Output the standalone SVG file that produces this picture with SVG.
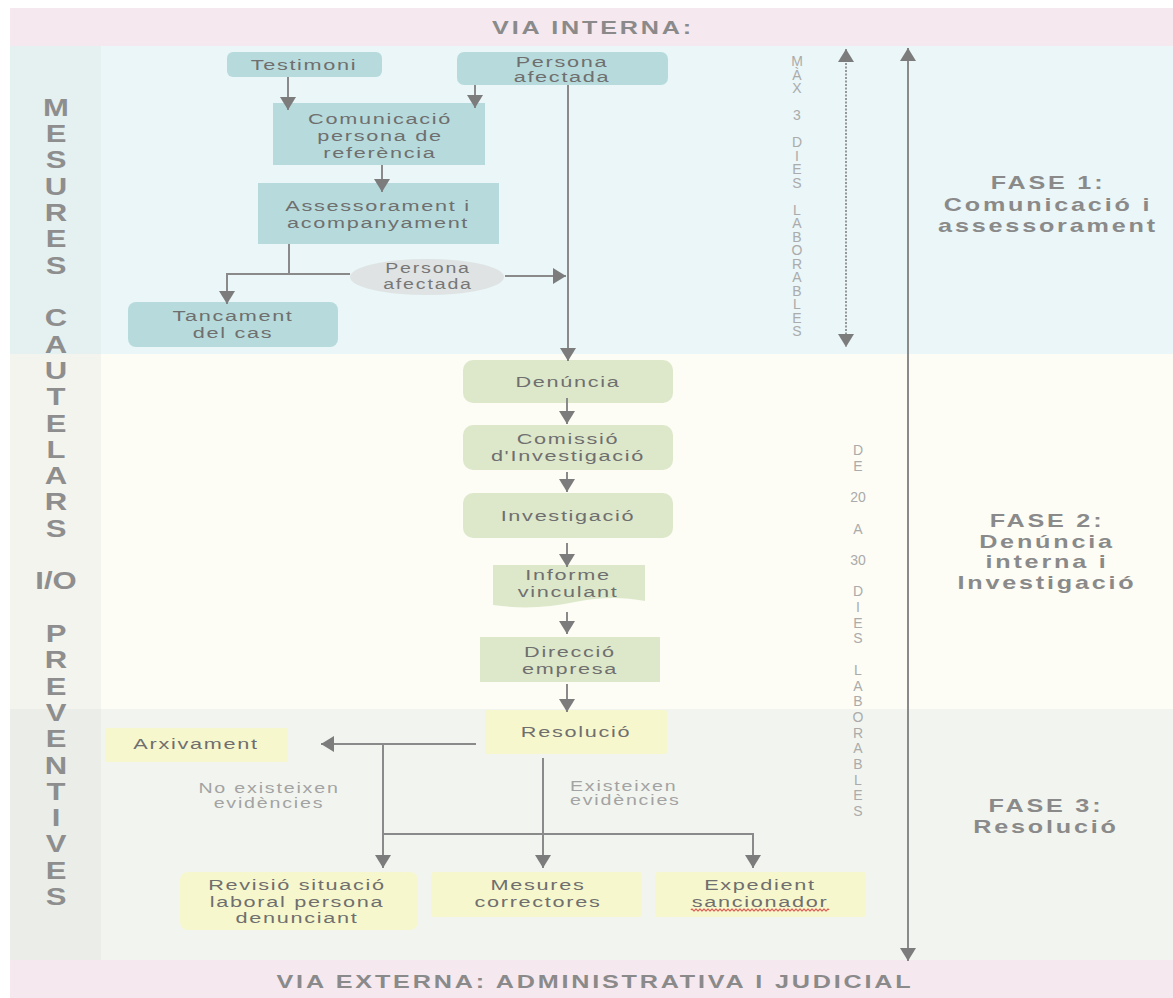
<svg xmlns="http://www.w3.org/2000/svg" width="1173" height="998" viewBox="0 0 1173 998">
<defs>
<style>
.t{font-family:"Liberation Sans",Arial,sans-serif;font-size:15.5px;fill:#6f6f6f;text-anchor:middle;letter-spacing:1.2px;transform-box:fill-box;transform-origin:center;transform:scaleX(1.4)}
.s{font-family:"Liberation Sans",Arial,sans-serif;font-size:14px;fill:#a3a3a3;text-anchor:middle;letter-spacing:1.3px;transform-box:fill-box;transform-origin:center;transform:scaleX(1.4)}
.sl{text-anchor:start;transform-origin:left center}
.h{font-family:"Liberation Sans",Arial,sans-serif;font-size:18px;font-weight:bold;fill:#8a8a8a;text-anchor:middle;letter-spacing:2px;transform-box:fill-box;transform-origin:center;transform:scaleX(1.4)}
.v{font-family:"Liberation Sans",Arial,sans-serif;font-size:23px;font-weight:bold;fill:#8e8e8e;text-anchor:middle;transform-box:fill-box;transform-origin:center;transform:scaleX(1.35)}
.d{font-family:"Liberation Sans",Arial,sans-serif;font-size:14px;fill:#ababab;text-anchor:middle}
.b1{fill:#b7dbdc}
.b2{fill:#dde8cb}
.b3{fill:#f7f7cd}
.c{fill:none;stroke:#8a8a8a;stroke-width:2}
.ca{fill:none;stroke:#8a8a8a;stroke-width:2;marker-end:url(#ah)}
</style>
<marker id="ah" viewBox="0 0 13 16" refX="13" refY="8" markerWidth="13" markerHeight="16" markerUnits="userSpaceOnUse" orient="auto-start-reverse">
<path d="M0,0 L13,8 L0,16 z" fill="#7c7c7c"/>
</marker>
</defs>

<g id="background">
<rect x="0" y="0" width="1173" height="998" fill="#ffffff"/>
<rect x="10" y="8" width="1163" height="38" fill="#f5e8ef"/>
<rect x="10" y="46" width="1163" height="308" fill="#eaf6f7"/>
<rect x="10" y="46" width="91" height="308" fill="#e5f0f0"/>
<rect x="10" y="354" width="1163" height="355" fill="#fdfdf5"/>
<rect x="10" y="354" width="91" height="355" fill="#f4f4ee"/>
<rect x="10" y="709" width="1163" height="251" fill="#f2f5ef"/>
<rect x="10" y="709" width="91" height="251" fill="#ebeee8"/>
<rect x="10" y="960" width="1163" height="38" fill="#f5e8ef"/>
</g>

<g id="titles">
<text class="h" x="593" y="34">VIA INTERNA:</text>
<text class="h" x="595" y="988">VIA EXTERNA: ADMINISTRATIVA I JUDICIAL</text>
<text class="h" x="1048"><tspan x="1048" y="189">FASE 1:</tspan><tspan x="1048" y="211">Comunicació i</tspan><tspan x="1048" y="232">assessorament</tspan></text>
<text class="h" x="1047"><tspan x="1047" y="527">FASE 2:</tspan><tspan x="1047" y="548">Denúncia</tspan><tspan x="1047" y="568">interna i</tspan><tspan x="1047" y="589">Investigació</tspan></text>
<text class="h" x="1046"><tspan x="1046" y="812">FASE 3:</tspan><tspan x="1046" y="833">Resolució</tspan></text>
</g>

<g id="side-label">
<text class="v" x="56"><tspan x="56" y="116">M</tspan><tspan x="56" y="142">E</tspan><tspan x="56" y="168">S</tspan><tspan x="56" y="195">U</tspan><tspan x="56" y="221">R</tspan><tspan x="56" y="247">E</tspan><tspan x="56" y="274">S</tspan><tspan x="56" y="326">C</tspan><tspan x="56" y="353">A</tspan><tspan x="56" y="379">U</tspan><tspan x="56" y="405">T</tspan><tspan x="56" y="432">E</tspan><tspan x="56" y="458">L</tspan><tspan x="56" y="484">A</tspan><tspan x="56" y="510">R</tspan><tspan x="56" y="537">S</tspan><tspan x="56" y="589">I/O</tspan><tspan x="56" y="642">P</tspan><tspan x="56" y="668">R</tspan><tspan x="56" y="695">E</tspan><tspan x="56" y="721">V</tspan><tspan x="56" y="747">E</tspan><tspan x="56" y="774">N</tspan><tspan x="56" y="800">T</tspan><tspan x="56" y="826">I</tspan><tspan x="56" y="852">V</tspan><tspan x="56" y="879">E</tspan><tspan x="56" y="905">S</tspan></text>
</g>

<g id="duration1">
<text class="d" x="797"><tspan x="797" y="66">M</tspan><tspan x="797" y="80">À</tspan><tspan x="797" y="93">X</tspan><tspan x="797" y="120">3</tspan><tspan x="797" y="147">D</tspan><tspan x="797" y="161">I</tspan><tspan x="797" y="174">E</tspan><tspan x="797" y="188">S</tspan><tspan x="797" y="215">L</tspan><tspan x="797" y="228">A</tspan><tspan x="797" y="242">B</tspan><tspan x="797" y="255">O</tspan><tspan x="797" y="269">R</tspan><tspan x="797" y="282">A</tspan><tspan x="797" y="296">B</tspan><tspan x="797" y="309">L</tspan><tspan x="797" y="323">E</tspan><tspan x="797" y="336">S</tspan></text>
</g>

<g id="duration2">
<text class="d" x="858"><tspan x="858" y="455">D</tspan><tspan x="858" y="471">E</tspan><tspan x="858" y="502">20</tspan><tspan x="858" y="534">A</tspan><tspan x="858" y="565">30</tspan><tspan x="858" y="596">D</tspan><tspan x="858" y="612">I</tspan><tspan x="858" y="628">E</tspan><tspan x="858" y="643">S</tspan><tspan x="858" y="675">L</tspan><tspan x="858" y="691">A</tspan><tspan x="858" y="706">B</tspan><tspan x="858" y="722">O</tspan><tspan x="858" y="738">R</tspan><tspan x="858" y="753">A</tspan><tspan x="858" y="769">B</tspan><tspan x="858" y="785">L</tspan><tspan x="858" y="800">E</tspan><tspan x="858" y="816">S</tspan></text>
</g>

<g id="testimoni">
<rect class="b1" x="227" y="52" width="155" height="25" rx="6"/>
<text class="t" x="304" y="70">Testimoni</text>
</g>
<g id="persona-afectada">
<rect class="b1" x="457" y="52" width="211" height="33" rx="7"/>
<text class="t" x="562"><tspan x="562" y="67">Persona</tspan><tspan x="562" y="82">afectada</tspan></text>
</g>
<g id="comunicacio">
<rect class="b1" x="273" y="103" width="212" height="62"/>
<text class="t" x="380"><tspan x="380" y="124">Comunicació</tspan><tspan x="380" y="141">persona de</tspan><tspan x="380" y="158">referència</tspan></text>
</g>
<g id="assessorament">
<rect class="b1" x="258" y="183" width="241" height="61"/>
<text class="t" x="378"><tspan x="378" y="211">Assessorament i</tspan><tspan x="378" y="228">acompanyament</tspan></text>
</g>
<g id="persona-afectada-2">
<ellipse cx="427" cy="277" rx="77" ry="18" fill="#dfe3e3"/>
<text class="s" x="428" style="fill:#777"><tspan x="428" y="273">Persona</tspan><tspan x="428" y="289">afectada</tspan></text>
</g>
<g id="tancament">
<rect class="b1" x="128" y="302" width="210" height="45" rx="8"/>
<text class="t" x="233"><tspan x="233" y="321">Tancament</tspan><tspan x="233" y="338">del cas</tspan></text>
</g>

<g id="denuncia">
<rect class="b2" x="463" y="360" width="210" height="43" rx="10"/>
<text class="t" x="568" y="387">Denúncia</text>
</g>
<g id="comissio">
<rect class="b2" x="463" y="425" width="210" height="45" rx="10"/>
<text class="t" x="568"><tspan x="568" y="444">Comissió</tspan><tspan x="568" y="461">d'Investigació</tspan></text>
</g>
<g id="investigacio">
<rect class="b2" x="463" y="493" width="210" height="45" rx="10"/>
<text class="t" x="568" y="521">Investigació</text>
</g>
<g id="informe">
<path class="b2" d="M493,565 H645 V601 C622,597 600,597 575,602 C548,608 520,609 493,605 Z"/>
<text class="t" x="568"><tspan x="568" y="580">Informe</tspan><tspan x="568" y="597">vinculant</tspan></text>
</g>
<g id="direccio">
<rect class="b2" x="480" y="637" width="180" height="45"/>
<text class="t" x="570"><tspan x="570" y="657">Direcció</tspan><tspan x="570" y="674">empresa</tspan></text>
</g>

<g id="resolucio">
<rect class="b3" x="485" y="710" width="182" height="44" rx="2"/>
<text class="t" x="576" y="737">Resolució</text>
</g>
<g id="arxivament">
<rect class="b3" x="105" y="728" width="183" height="34" rx="2"/>
<text class="t" x="196" y="749">Arxivament</text>
</g>
<g id="revisio">
<rect class="b3" x="180" y="872" width="238" height="58" rx="8"/>
<text class="t" x="297"><tspan x="297" y="890">Revisió situació</tspan><tspan x="297" y="907">laboral persona</tspan><tspan x="297" y="923">denunciant</tspan></text>
</g>
<g id="mesures">
<rect class="b3" x="431" y="872" width="211" height="45" rx="3"/>
<text class="t" x="538"><tspan x="538" y="890">Mesures</tspan><tspan x="538" y="907">correctores</tspan></text>
</g>
<g id="expedient">
<rect class="b3" x="655" y="872" width="211" height="45" rx="3"/>
<text class="t" x="760"><tspan x="760" y="890">Expedient</tspan><tspan x="760" y="907">sancionador</tspan></text>
<path d="M691,910 q1,-2 2,0 t2,0 t2,0 t2,0 t2,0 t2,0 t2,0 t2,0 t2,0 t2,0 t2,0 t2,0 t2,0 t2,0 t2,0 t2,0 t2,0 t2,0 t2,0 t2,0 t2,0 t2,0 t2,0 t2,0 t2,0 t2,0 t2,0 t2,0 t2,0 t2,0 t2,0 t2,0 t2,0 t2,0 t2,0 t2,0 t2,0 t2,0 t2,0 t2,0 t2,0 t2,0 t2,0 t2,0 t2,0 t2,0 t2,0 t2,0 t2,0 t2,0 t2,0 t2,0 t2,0 t2,0 t2,0 t2,0 t2,0 t2,0 t2,0 t2,0 t2,0 t2,0 t2,0 t2,0 t2,0 t2,0 t2,0 t2,0 t2,0" fill="none" stroke="#d9534f" stroke-width="1.2"/>
</g>

<g id="labels">
<text class="s" x="269"><tspan x="269" y="793">No existeixen</tspan><tspan x="269" y="808">evidències</tspan></text>
<text class="s sl" x="570"><tspan x="570" y="791">Existeixen</tspan><tspan x="570" y="805">evidències</tspan></text>
</g>

<g id="connectors">
<path class="ca" d="M288,77 V110"/>
<path class="ca" d="M475,85 V108"/>
<path class="ca" d="M382,165 V192"/>
<path class="ca" d="M289,244 V274 H227 V304"/>
<path class="c" d="M289,274 H350"/>
<path class="ca" d="M505,276 H566"/>
<path class="ca" d="M568,85 V361"/>
<path class="ca" d="M567,398 V424"/>
<path class="ca" d="M567,472 V492"/>
<path class="ca" d="M567,543 V567"/>
<path class="ca" d="M567,612 V634"/>
<path class="ca" d="M567,684 V712"/>
<path class="ca" d="M476,744 H321"/>
<path class="ca" d="M383,744 V868"/>
<path class="ca" d="M543,758 V868"/>
<path class="ca" d="M383,834 H753 V868"/>
<path d="M846,49 V347" fill="none" stroke="#7a7a7a" stroke-width="1.5" stroke-dasharray="2,1.5" marker-start="url(#ah)" marker-end="url(#ah)"/>
<path d="M908,48 V961" fill="none" stroke="#8a8a8a" stroke-width="2" marker-start="url(#ah)" marker-end="url(#ah)"/>
</g>
</svg>
